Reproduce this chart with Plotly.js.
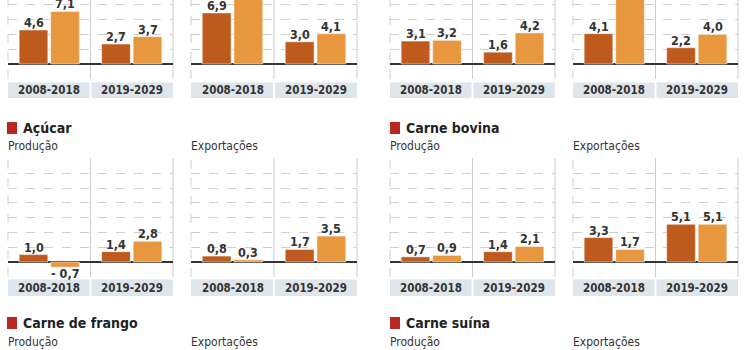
<!DOCTYPE html>
<html>
<head>
<meta charset="utf-8">
<script src="https://cdn.plot.ly/plotly-3.0.1.min.js"></script>
<style>html,body{margin:0;padding:0;background:#fff;}#chart{width:750px;height:350px;}</style>
</head>
<body>
<div id="chart"></div>
<script>
// ---- data ----
var periods = ['2008-2018', '2019-2029'];
// each panel: [dark series per period], [light series per period]
var top1Dark = [4.6, 2.7], top1Light = [7.1, 3.7];
var top2Dark = [6.9, 3.0], top2Light = [11.5, 4.1];
var top3Dark = [3.1, 1.6], top3Light = [3.2, 4.2];
var top4Dark = [4.1, 2.2], top4Light = [10.0, 4.0];
var acucarProdDark = [1.0, 1.4], acucarProdLight = [-0.7, 2.8];
var acucarExpDark = [0.8, 1.7], acucarExpLight = [0.3, 3.5];
var bovinaProdDark = [0.7, 1.4], bovinaProdLight = [0.9, 2.1];
var bovinaExpDark = [3.3, 5.1], bovinaExpLight = [1.7, 5.1];
var groupTitles = ['Açúcar', 'Carne bovina', 'Carne de frango', 'Carne suína'];
var subTitles = ['Produção', 'Exportações'];

var panels = [
  [top1Dark, top1Light], [top2Dark, top2Light], [top3Dark, top3Light], [top4Dark, top4Light],
  [acucarProdDark, acucarProdLight], [acucarExpDark, acucarExpLight],
  [bovinaProdDark, bovinaProdLight], [bovinaExpDark, bovinaExpLight]
];

// ---- style / layout ----
var W = 750, H = 350;
var FONT = 'DejaVu Sans Condensed, Liberation Sans Narrow, sans-serif';
var DARK = '#bd5a1c', LIGHT = '#e8973f';
var UNIT = 7.4; // px per unit
var colsPx = [[8, 173], [191, 357], [390, 555], [573, 738]];
var rows = [
  {base: 64, rmin: -2.02, rmax: 64 / UNIT, band: [82.5, 98]},
  {base: 262, rmin: -2.02, rmax: 14.02, band: [279.5, 296]}
];
var BAR_OFFSET = 15.75; // px from category centre to each bar centre

function fmt(v) {
  return (v < 0 ? '- ' : '') + Math.abs(v).toFixed(1).replace('.', ',');
}
function py(p) { return 1 - p / H; }

var data = [];
var layout = {
  width: W, height: H,
  margin: {l: 0, r: 0, t: 0, b: 0},
  paper_bgcolor: '#fff', plot_bgcolor: 'rgba(0,0,0,0)',
  showlegend: false,
  barmode: 'group', bargap: 0.236, bargroupgap: 0.09,
  separators: ',.',
  font: {family: FONT, color: '#333'},
  shapes: [], annotations: []
};

panels.forEach(function (pn, i) {
  var r = rows[Math.floor(i / 4)];
  var c = colsPx[i % 4];
  var n = i + 1;
  var sfx = (n === 1 ? '' : String(n));
  var xa = 'x' + sfx, ya = 'y' + sfx;
  var top = r.base - r.rmax * UNIT, bot = r.base - r.rmin * UNIT;
  [0, 1].forEach(function (s) {
    data.push({
      type: 'bar', x: periods, y: pn[s], xaxis: xa, yaxis: ya,
      marker: {color: s === 0 ? DARK : LIGHT, line: {color: 'rgba(255,255,255,0.5)', width: 1}},
      cliponaxis: false, hoverinfo: 'none'
    });
    pn[s].forEach(function (v, k) {
      layout.annotations.push({
        xref: xa, yref: ya, x: periods[k], y: v, showarrow: false,
        xshift: (s === 0 ? -1 : 1) * BAR_OFFSET,
        yanchor: v < 0 ? 'top' : 'bottom', yshift: v < 0 ? 3 : -2,
        text: fmt(v), font: {family: FONT, size: 12.5, color: '#333', weight: 'bold'}
      });
    });
  });
  layout['xaxis' + sfx] = {
    domain: [c[0] / W, c[1] / W], anchor: ya, type: 'category', range: [-0.5, 1.5],
    showgrid: false, zeroline: false, showline: false, ticks: '', showticklabels: false, fixedrange: true
  };
  layout['yaxis' + sfx] = {
    domain: [py(bot), Math.min(1, py(top))], anchor: xa, range: [r.rmin, r.rmax],
    dtick: 2, tick0: 0, showticklabels: false, ticks: '',
    showgrid: true, griddash: 'dash', gridcolor: '#cfcfcf', gridwidth: 1,
    zeroline: true, zerolinecolor: '#333', zerolinewidth: 1.5, showline: false, fixedrange: true
  };
  // period labels in the gray band
  periods.forEach(function (p) {
    layout.annotations.push({
      xref: xa, yref: 'paper', x: p, y: py((r.band[0] + r.band[1]) / 2), yanchor: 'middle',
      showarrow: false, text: p, font: {family: FONT, size: 11.5, color: '#333', weight: 'bold'}
    });
  });
  var xd = xa + ' domain';
  // gray bands
  layout.shapes.push({type: 'rect', xref: xd, yref: 'paper', x0: 0, x1: 0.494, y0: py(r.band[1]), y1: py(r.band[0]), fillcolor: '#dfe6eb', line: {width: 0}, layer: 'below'});
  layout.shapes.push({type: 'rect', xref: xd, yref: 'paper', x0: 0.506, x1: 1, y0: py(r.band[1]), y1: py(r.band[0]), fillcolor: '#dfe6eb', line: {width: 0}, layer: 'below'});
  // vertical borders
  layout.shapes.push({type: 'line', xref: xd, yref: 'paper', x0: 0, x1: 0, y0: py(bot), y1: py(Math.max(0, top)), line: {color: '#cfcfcf', width: 1, dash: 'dash'}, layer: 'below'});
  layout.shapes.push({type: 'line', xref: xd, yref: 'paper', x0: 0.5, x1: 0.5, y0: py(bot), y1: py(Math.max(0, top)), line: {color: '#cccccc', width: 1}, layer: 'below'});
  layout.shapes.push({type: 'line', xref: xd, yref: 'paper', x0: 1, x1: 1, y0: py(bot), y1: py(Math.max(0, top)), line: {color: '#cccccc', width: 1}, layer: 'below'});
});

// group titles and subtitles
var titleRows = [{t: 128, s: 146}, {t: 323, s: 342}];
var titleX = [7, 390];
groupTitles.forEach(function (g, k) {
  var tr = titleRows[Math.floor(k / 2)];
  var x0 = titleX[k % 2];
  layout.shapes.push({type: 'rect', xref: 'paper', yref: 'paper', x0: x0 / W, x1: (x0 + 10) / W, y0: py(tr.t + 6), y1: py(tr.t - 6), fillcolor: '#b8281e', line: {width: 0}});
  layout.annotations.push({xref: 'paper', yref: 'paper', x: (x0 + 14) / W, y: py(tr.t), xanchor: 'left', yanchor: 'middle', text: g, showarrow: false, font: {family: FONT, size: 14, color: '#222', weight: 'bold'}});
  subTitles.forEach(function (s, j) {
    var sx = colsPx[(k % 2) * 2 + j][0] - 2;
    layout.annotations.push({xref: 'paper', yref: 'paper', x: sx / W, y: py(tr.s), xanchor: 'left', yanchor: 'middle', text: s, showarrow: false, font: {family: FONT, size: 12, color: '#333'}});
  });
});

Plotly.newPlot('chart', data, layout, {displayModeBar: false, staticPlot: true});
</script>
</body>
</html>
